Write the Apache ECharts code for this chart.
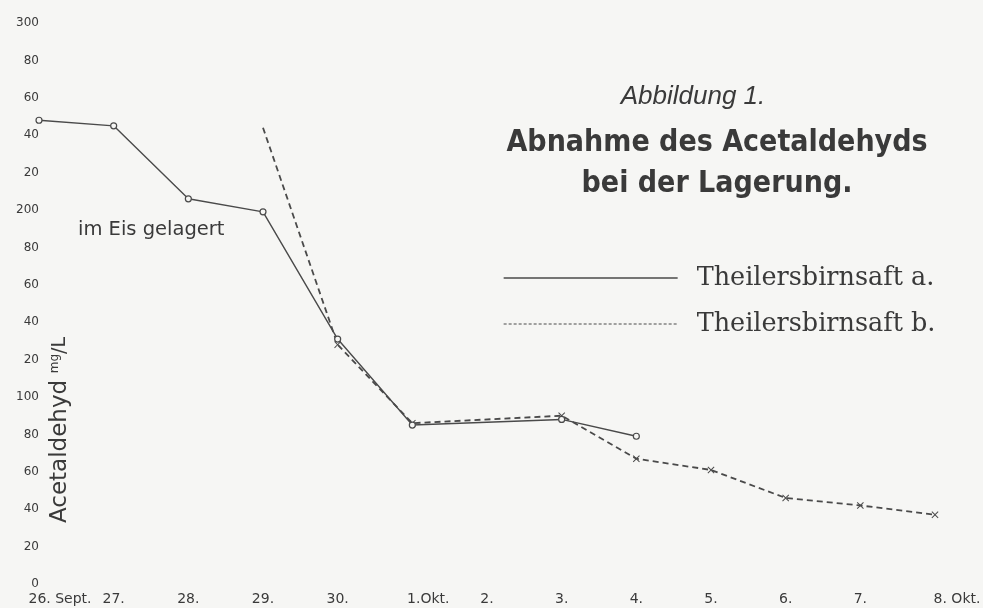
<!DOCTYPE html>
<html>
<head>
<meta charset="utf-8">
<script src="https://cdn.jsdelivr.net/npm/echarts@6/dist/echarts.min.js"></script>
<style>
  html, body { margin: 0; padding: 0; background: #f6f6f4; }
  #chart { width: 983px; height: 608px; }
</style>
</head>
<body>
<div id="chart"></div>
<script>
// ---- data ----
const dayLabels = ['26. Sept.', '27.', '28.', '29.', '30.', '1.Okt.', '2.', '3.', '4.', '5.', '6.', '7.', '8. Okt.'];
const seriesAName = 'Theilersbirnsaft a.';
const seriesBName = 'Theilersbirnsaft b.';
const seriesA = [248, 245, 206, 199, 131, 85, null, 88, 79, null, null, null, null];
const seriesB = [null, null, null, 244, 128, 86, null, 90, 67, 61, 46, 42, 37];
const yMin = 0, yMax = 300, yStep = 20;
const titleLine1 = 'Abbildung 1.';
const titleLine2 = 'Abnahme des Acetaldehyds\nbei der Lagerung.';
const noteText = 'im Eis gelagert';
const yName = 'Acetaldehyd';
const yUnitSup = 'mg';
const yUnit = '/L';

// ---- chart ----
const chart = echarts.init(document.getElementById('chart'), null, { renderer: 'canvas' });
const ink = '#3a3a3a';
const lineInk = '#4a4a4a';
const crossPath = 'path://M0,1L1,0L5,4L9,0L10,1L6,5L10,9L9,10L5,6L1,10L0,9L4,5Z';
const padStyleByIndex = { 0: 'pa', 5: 'pb', 12: 'pc' };

const firstB = seriesB.findIndex(x => x != null);
const bData = seriesB.map((v, i) => (i === firstB ? { value: v, symbol: 'none' } : v));

const option = {
  backgroundColor: '#f6f6f4',
  animation: false,
  grid: { left: 39, right: 48, top: 23, bottom: 24, containLabel: false, outerBoundsMode: 'none' },
  xAxis: {
    type: 'category',
    data: dayLabels,
    boundaryGap: false,
    axisLine: { show: false },
    axisTick: { show: false },
    splitLine: { show: false },
    axisLabel: {
      interval: 0,
      margin: 8,
      color: ink,
      fontFamily: 'DejaVu Sans',
      fontSize: 14,
      formatter: (v, i) => padStyleByIndex[i] ? '{' + padStyleByIndex[i] + '| }' + v : v,
      rich: {
        pa: { width: 42, fontSize: 14 },
        pb: { width: 32, fontSize: 14 },
        pc: { width: 44, fontSize: 14 }
      }
    }
  },
  yAxis: {
    type: 'value',
    min: yMin,
    max: yMax,
    interval: yStep,
    axisLine: { show: false },
    axisTick: { show: false },
    splitLine: { show: false },
    axisLabel: {
      margin: 0,
      color: ink,
      fontFamily: 'DejaVu Sans',
      fontSize: 12,
      formatter: v => (v % 100 === 0 ? String(v) : String(v % 100))
    }
  },
  legend: {
    orient: 'vertical',
    left: 498,
    top: 260,
    itemWidth: 174,
    itemHeight: 14,
    itemGap: 20,
    itemStyle: { opacity: 0 },
    textStyle: {
      fontFamily: 'DejaVu Serif',
      fontSize: 25.5,
      color: ink,
      padding: [0, 0, 0, 14]
    },
    data: [
      { name: seriesAName, lineStyle: { color: lineInk, width: 1.3, type: 'solid' } },
      { name: seriesBName, lineStyle: { color: lineInk, width: 1, type: [3, 2] } }
    ]
  },
  series: [
    {
      name: seriesAName,
      type: 'line',
      data: seriesA,
      connectNulls: true,
      symbol: 'circle',
      symbolSize: 6,
      itemStyle: { color: '#f6f6f4', borderColor: lineInk, borderWidth: 1.2 },
      lineStyle: { color: lineInk, width: 1.4 },
      z: 3
    },
    {
      name: seriesBName,
      type: 'line',
      data: bData,
      connectNulls: true,
      symbol: crossPath,
      symbolSize: 7,
      itemStyle: { color: lineInk },
      lineStyle: { color: lineInk, width: 1.8, type: [6, 4] },
      z: 2
    }
  ],
  graphic: [
    {
      type: 'text', x: 693, y: 97,
      style: { text: titleLine1, align: 'center', verticalAlign: 'middle',
        font: 'italic 26px "Liberation Sans", sans-serif', fill: ink }
    },
    {
      type: 'text', x: 717, y: 164,
      style: { text: titleLine2, align: 'center', verticalAlign: 'middle', lineHeight: 41,
        font: 'bold 30px "DejaVu Sans Condensed", sans-serif', fill: ink }
    },
    {
      type: 'text', x: 78, y: 230,
      style: { text: noteText, align: 'left', verticalAlign: 'middle',
        font: '19.5px "DejaVu Sans", sans-serif', fill: ink }
    },
    {
      type: 'text', x: 60, y: 430, rotation: Math.PI / 2,
      style: {
        text: '{n|' + yName + '}  {s|' + yUnitSup + '}{u|' + yUnit + '}',
        align: 'center', verticalAlign: 'middle', fill: ink,
        rich: {
          n: { fontFamily: 'DejaVu Sans', fontSize: 23, fill: ink },
          s: { fontFamily: 'DejaVu Sans', fontSize: 12, fill: ink, padding: [0, 0, 10, 0] },
          u: { fontFamily: 'DejaVu Sans', fontSize: 19, fill: ink }
        }
      }
    }
  ]
};
chart.setOption(option);
</script>
</body>
</html>
